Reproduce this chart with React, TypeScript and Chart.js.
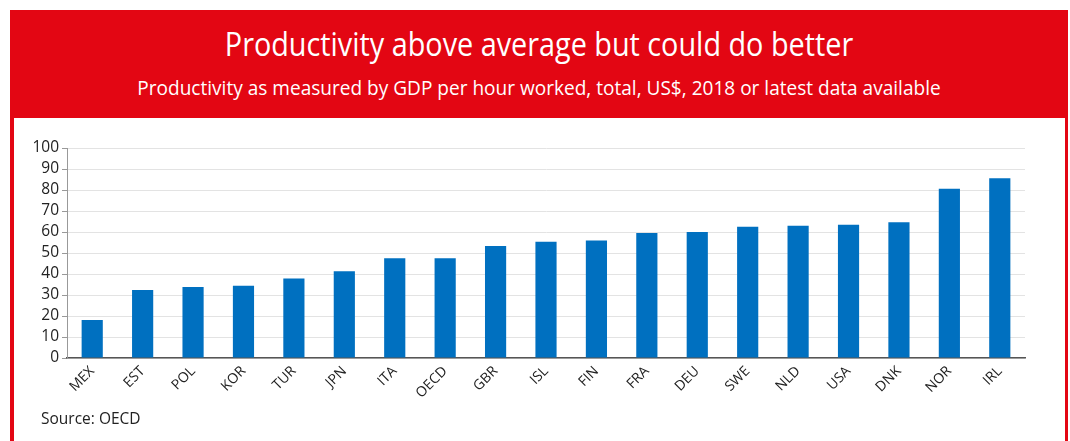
import React, { useEffect, useRef } from "react";
import { Chart, registerables } from "chart.js";

Chart.register(...registerables);

const categories = ["MEX", "EST", "POL", "KOR", "TUR", "JPN", "ITA", "OECD", "GBR", "ISL", "FIN", "FRA", "DEU", "SWE", "NLD", "USA", "DNK", "NOR", "IRL"];
const productivity = [18.1, 32.4, 33.8, 34.4, 37.8, 41.3, 47.5, 47.5, 53.3, 55.4, 55.9, 59.5, 60.0, 62.5, 63.0, 63.5, 64.6, 80.6, 85.6];

const titleText = "Productivity above average but could do better";
const subtitleText = "Productivity as measured by GDP per hour worked, total, US$, 2018 or latest data available";
const sourceText = "Source: OECD";

const RED = "#e30613";
const BLUE = "#0070c0";
const FONT = "'Open Sans', sans-serif";

export default function App() {
  const ref = useRef<HTMLCanvasElement | null>(null);

  useEffect(() => {
    document.body.style.margin = "0";
    const ctx = ref.current!;
    const chart = new Chart(ctx, {
      type: "bar",
      data: {
        labels: categories,
        datasets: [
          {
            data: productivity,
            backgroundColor: BLUE,
            barPercentage: 0.42,
            categoryPercentage: 1,
          },
        ],
      },
      options: {
        animation: false,
        responsive: false,
        maintainAspectRatio: false,
        layout: { padding: { left: 27, top: 148, right: 45, bottom: 23 } },
        plugins: { legend: { display: false }, tooltip: { enabled: false }, title: { display: false } },
        scales: {
          x: {
            grid: { display: false, drawTicks: false },
            border: { color: "#555", width: 1.5 },
            ticks: {
              minRotation: 45,
              maxRotation: 45,
              autoSkip: false,
              color: "#222",
              padding: 5,
              font: { family: FONT, size: 14 },
            },
            afterFit: (s: any) => {
              s.height = 60;
            },
          },
          y: {
            min: 0,
            max: 100,
            ticks: {
              stepSize: 10,
              autoSkip: false,
              color: "#222",
              padding: 3,
              font: { family: FONT, size: 15.5 },
            },
            grid: { color: "#e3e3e3", lineWidth: 1, tickLength: 5, tickColor: "#999" },
            border: { color: "#999", width: 1 },
            afterFit: (s: any) => {
              s.width = 40;
            },
          },
        },
      },
    });
    return () => chart.destroy();
  }, []);

  return (
    <div style={{ position: "fixed", left: 0, top: 0, width: 1070, height: 441, overflow: "hidden", background: "#fff" }}>
      <div style={{ position: "absolute", left: 10, top: 10, width: 1058, height: 440, background: RED }} />
      <div style={{ position: "absolute", left: 14, top: 118, width: 1051, height: 330, background: "#fff" }} />
      <div
        style={{
          position: "absolute",
          left: 10,
          width: 1058,
          top: 28,
          textAlign: "center",
          color: "#fff",
          fontFamily: FONT,
          fontSize: 32,
          lineHeight: "32px",
          whiteSpace: "nowrap",
          transform: "scaleX(0.9)",
          transformOrigin: "center",
        }}
      >
        {titleText}
      </div>
      <div
        style={{
          position: "absolute",
          left: 10,
          width: 1058,
          top: 78,
          textAlign: "center",
          color: "#fff",
          fontFamily: FONT,
          fontSize: 19.5,
          lineHeight: "19.5px",
          whiteSpace: "nowrap",
          transform: "scaleX(0.977)",
          transformOrigin: "center",
        }}
      >
        {subtitleText}
      </div>
      <canvas ref={ref} width={1070} height={441} style={{ position: "absolute", left: 0, top: 0, width: 1070, height: 441 }} />
      <div
        style={{
          position: "absolute",
          left: 41,
          top: 411,
          color: "#222",
          fontFamily: FONT,
          fontSize: 15.5,
          lineHeight: "15.5px",
          whiteSpace: "nowrap",
        }}
      >
        {sourceText}
      </div>
    </div>
  );
}
